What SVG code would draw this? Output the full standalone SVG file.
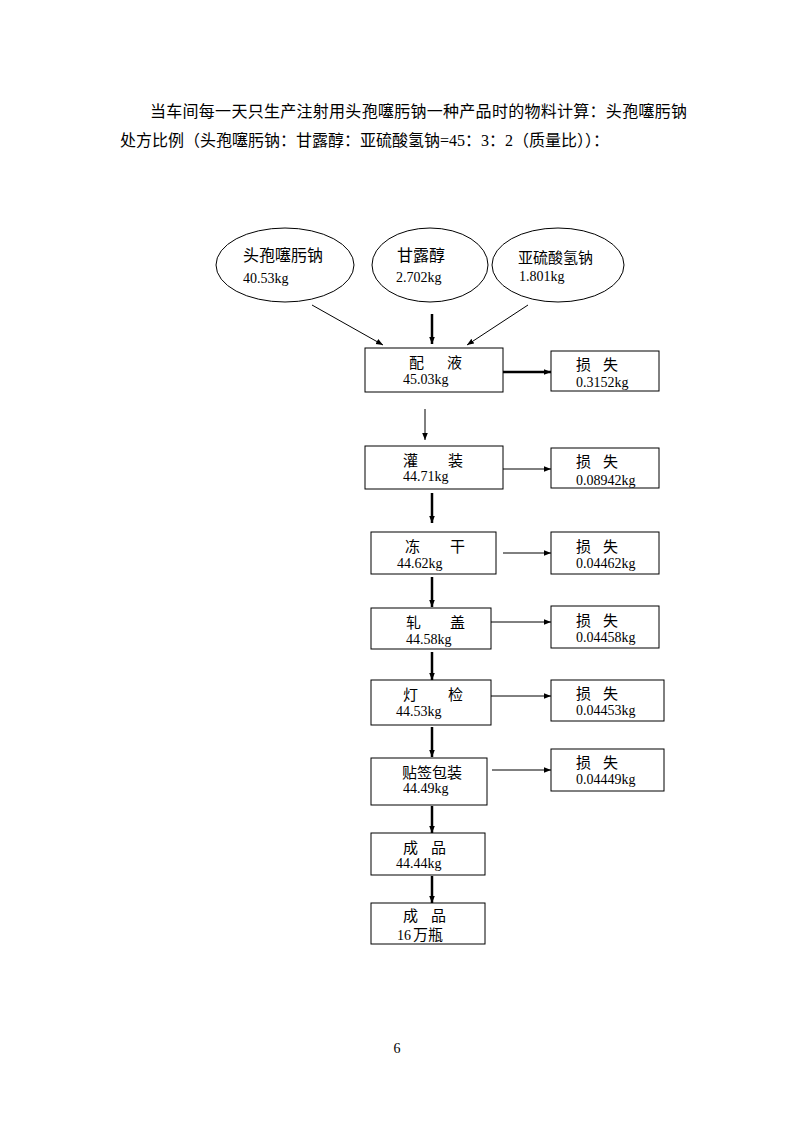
<svg xmlns="http://www.w3.org/2000/svg" width="794" height="1123" viewBox="0 0 794 1123">
<style>
.cn{font-family:"Noto Sans CJK SC","Liberation Sans",sans-serif;font-size:15px;fill:#000}
.hd{font-family:"Noto Sans CJK SC","Liberation Sans",sans-serif;font-size:16px;fill:#000}
.num{font-family:"Liberation Serif",serif;font-size:14px;fill:#000}
.box{fill:#fff;stroke:#000;stroke-width:1}
.thin{stroke:#000;stroke-width:1;fill:none}
.thick{stroke:#000;stroke-width:2.5;fill:none}
</style>
<defs>
<marker id="ah" viewBox="0 0 10 10" refX="10" refY="5" markerWidth="7" markerHeight="7" markerUnits="userSpaceOnUse" orient="auto"><path d="M0,1 L10,5 L0,9 Z" fill="#000"/></marker>
<marker id="ahk" viewBox="0 0 10 10" refX="10" refY="5" markerWidth="3" markerHeight="3" orient="auto"><path d="M0,1 L10,5 L0,9 Z" fill="#000"/></marker>
</defs>
<rect width="794" height="1123" fill="#fff"/>
<g id="heading">
<text class="hd" x="150" y="117" textLength="537" lengthAdjust="spacing">当车间每一天只生产注射用头孢噻肟钠一种产品时的物料计算：头孢噻肟钠</text>
<text class="hd" x="120" y="146">处方比例（头孢噻肟钠：甘露醇：亚硫酸氢钠<tspan font-family="Liberation Serif">=45</tspan>：<tspan font-family="Liberation Serif">3</tspan>：<tspan font-family="Liberation Serif">2</tspan>（质量比））：</text>
</g>
<g id="connectors">
<line class="thin" x1="312" y1="305" x2="383" y2="345" marker-end="url(#ah)"/>
<line class="thick" x1="432" y1="314" x2="432" y2="344" marker-end="url(#ahk)"/>
<line class="thin" x1="528" y1="305" x2="467" y2="345" marker-end="url(#ah)"/>
<line class="thick" x1="503" y1="372" x2="551" y2="372" marker-end="url(#ahk)"/>
<line class="thin" x1="425" y1="409" x2="425" y2="440" marker-end="url(#ah)"/>
<line class="thin" x1="503" y1="469" x2="551" y2="469" marker-end="url(#ah)"/>
<line class="thick" x1="432" y1="493" x2="432" y2="523" marker-end="url(#ahk)"/>
<line class="thin" x1="503" y1="553" x2="551" y2="553" marker-end="url(#ah)"/>
<line class="thick" x1="432" y1="577" x2="432" y2="607" marker-end="url(#ahk)"/>
<line class="thin" x1="491" y1="622" x2="551" y2="622" marker-end="url(#ah)"/>
<line class="thick" x1="432" y1="652" x2="432" y2="680" marker-end="url(#ahk)"/>
<line class="thin" x1="491" y1="696" x2="551" y2="696" marker-end="url(#ah)"/>
<line class="thick" x1="432" y1="727" x2="432" y2="757" marker-end="url(#ahk)"/>
<line class="thin" x1="492" y1="770" x2="551" y2="770" marker-end="url(#ah)"/>
<line class="thick" x1="432" y1="806" x2="432" y2="833" marker-end="url(#ahk)"/>
<line class="thick" x1="432" y1="876" x2="432" y2="903" marker-end="url(#ahk)"/>
</g>
<g id="n-toubao">
<ellipse class="box" cx="285" cy="265" rx="69" ry="37"/>
<text class="hd" x="243" y="261">头孢噻肟钠</text>
<text class="num" x="243" y="283">40.53kg</text>
</g>
<g id="n-ganlu">
<ellipse class="box" cx="430" cy="265" rx="58" ry="37"/>
<text class="hd" x="397" y="261">甘露醇</text>
<text class="num" x="396" y="282">2.702kg</text>
</g>
<g id="n-yaliu">
<ellipse class="box" cx="558" cy="265" rx="66" ry="37"/>
<text class="cn" x="518" y="263">亚硫酸氢钠</text>
<text class="num" x="519" y="281">1.801kg</text>
</g>
<g id="n-peiye">
<rect class="box" x="365" y="348" width="138" height="44"/>
<text class="cn" x="409" y="368">配</text><text class="cn" x="447" y="368">液</text>
<text class="num" x="403" y="384">45.03kg</text>
</g>
<g id="n-loss1">
<rect class="box" x="551" y="351" width="108" height="40"/>
<text class="cn" x="576" y="370">损</text><text class="cn" x="603" y="370">失</text>
<text class="num" x="576" y="387">0.3152kg</text>
</g>
<g id="n-guanzhuang">
<rect class="box" x="365" y="446" width="138" height="43"/>
<text class="cn" x="403" y="466">灌</text><text class="cn" x="448" y="466">装</text>
<text class="num" x="403" y="481">44.71kg</text>
</g>
<g id="n-loss2">
<rect class="box" x="551" y="448" width="108" height="40"/>
<text class="cn" x="576" y="467">损</text><text class="cn" x="603" y="467">失</text>
<text class="num" x="576" y="485">0.08942kg</text>
</g>
<g id="n-donggan">
<rect class="box" x="371" y="532" width="125" height="42"/>
<text class="cn" x="405" y="552">冻</text><text class="cn" x="450" y="552">干</text>
<text class="num" x="397" y="568">44.62kg</text>
</g>
<g id="n-loss3">
<rect class="box" x="551" y="532" width="108" height="42"/>
<text class="cn" x="576" y="552">损</text><text class="cn" x="603" y="552">失</text>
<text class="num" x="576" y="568">0.04462kg</text>
</g>
<g id="n-zhagai">
<rect class="box" x="371" y="608" width="120" height="41"/>
<text class="cn" x="406" y="628">轧</text><text class="cn" x="450" y="628">盖</text>
<text class="num" x="406" y="644">44.58kg</text>
</g>
<g id="n-loss4">
<rect class="box" x="551" y="606" width="108" height="42"/>
<text class="cn" x="576" y="626">损</text><text class="cn" x="603" y="626">失</text>
<text class="num" x="576" y="642">0.04458kg</text>
</g>
<g id="n-dengjian">
<rect class="box" x="371" y="680" width="120" height="45"/>
<text class="cn" x="403" y="700">灯</text><text class="cn" x="448" y="700">检</text>
<text class="num" x="396" y="716">44.53kg</text>
</g>
<g id="n-loss5">
<rect class="box" x="551" y="680" width="113" height="41"/>
<text class="cn" x="576" y="699">损</text><text class="cn" x="603" y="699">失</text>
<text class="num" x="576" y="715">0.04453kg</text>
</g>
<g id="n-tieqian">
<rect class="box" x="371" y="758" width="116" height="47"/>
<text class="cn" x="402" y="778">贴签包装</text>
<text class="num" x="403" y="793">44.49kg</text>
</g>
<g id="n-loss6">
<rect class="box" x="551" y="749" width="113" height="42"/>
<text class="cn" x="576" y="768">损</text><text class="cn" x="603" y="768">失</text>
<text class="num" x="576" y="784">0.04449kg</text>
</g>
<g id="n-chengpin1">
<rect class="box" x="371" y="833" width="114" height="42"/>
<text class="cn" x="403" y="853">成</text><text class="cn" x="431" y="853">品</text>
<text class="num" x="396" y="868">44.44kg</text>
</g>
<g id="n-chengpin2">
<rect class="box" x="371" y="903" width="114" height="41"/>
<text class="cn" x="403" y="921">成</text><text class="cn" x="431" y="921">品</text>
<text class="num" x="397" y="940">16</text>
<text class="cn" x="413" y="940" font-size="14">万瓶</text>
</g>
<text class="num" x="397" y="1053" text-anchor="middle">6</text>
</svg>
